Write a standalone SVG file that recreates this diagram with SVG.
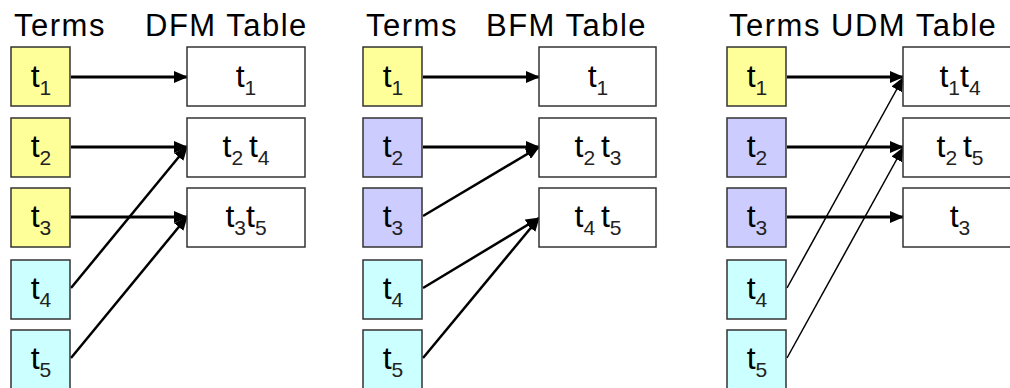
<svg xmlns="http://www.w3.org/2000/svg" width="1010" height="388" viewBox="0 0 1010 388">
  <style>
    .hdr { font-family: "Liberation Sans", Arial, sans-serif; font-size: 31px; letter-spacing: 1.5px; fill: #000; }
    .lbl { font-family: "Liberation Sans", Arial, sans-serif; font-size: 32px; fill: #000; text-anchor: middle; }
    .sub { font-size: 21px; fill: #222; }
    .box { stroke: #333; stroke-width: 1.5; }
    .y { fill: #FFFF99; }
    .v { fill: #CCCCFF; }
    .c { fill: #CCFFFF; }
    .w { fill: #FFFFFF; }
    .edge { stroke: #000; fill: none; marker-end: url(#arrow); }
    .thick { stroke-width: 3; }
    .mid { stroke-width: 2.5; }
    .thin { stroke-width: 1.5; }
  </style>
  <defs>
    <marker id="arrow" markerUnits="userSpaceOnUse" markerWidth="14" markerHeight="12" viewBox="0 0 14 12" refX="13" refY="6" orient="auto">
      <path d="M0,0 L14,6 L0,12 z" fill="#000"/>
    </marker>
  </defs>
  <rect width="1010" height="388" fill="#fff"/>

  <!-- headers -->
  <g id="headers">
    <text class="hdr" x="14" y="36">Terms</text>
    <text class="hdr" x="145" y="36">DFM Table</text>
    <text class="hdr" x="366" y="36">Terms</text>
    <text class="hdr" x="486" y="36">BFM Table</text>
    <text class="hdr" x="729" y="36">Terms UDM Table</text>
  </g>

  <!-- connectors -->
  <g id="connectors">
    <!-- DFM -->
    <line class="edge thick" x1="71" y1="77" x2="187" y2="77"/>
    <line class="edge thick" x1="71" y1="147" x2="187" y2="147"/>
    <line class="edge thick" x1="71" y1="217" x2="187" y2="217"/>
    <line class="edge mid" x1="71" y1="288" x2="187" y2="147"/>
    <line class="edge mid" x1="71" y1="358" x2="187" y2="217"/>
    <!-- BFM -->
    <line class="edge thick" x1="423" y1="77" x2="539" y2="77"/>
    <line class="edge thick" x1="423" y1="147" x2="539" y2="147"/>
    <line class="edge mid" x1="423" y1="216" x2="539" y2="147"/>
    <line class="edge mid" x1="423" y1="288" x2="539" y2="218"/>
    <line class="edge mid" x1="423" y1="358" x2="539" y2="218"/>
    <!-- UDM -->
    <line class="edge thick" x1="787" y1="77" x2="903" y2="77"/>
    <line class="edge thick" x1="787" y1="147" x2="903" y2="147"/>
    <line class="edge thick" x1="787" y1="217" x2="903" y2="217"/>
    <line class="edge thin" x1="787" y1="288" x2="903" y2="78"/>
    <line class="edge thin" x1="787" y1="358" x2="903" y2="148"/>
  </g>

  <!-- DFM terms -->
  <g id="dfm-t1"><rect class="box y" x="11" y="47" width="59" height="59"/><text class="lbl" x="41" y="87">t<tspan class="sub" dy="8">1</tspan></text></g>
  <g id="dfm-t2"><rect class="box y" x="11" y="118" width="59" height="59"/><text class="lbl" x="41" y="157">t<tspan class="sub" dy="8">2</tspan></text></g>
  <g id="dfm-t3"><rect class="box y" x="11" y="188" width="59" height="59"/><text class="lbl" x="41" y="227">t<tspan class="sub" dy="8">3</tspan></text></g>
  <g id="dfm-t4"><rect class="box c" x="11" y="260" width="59" height="59"/><text class="lbl" x="41" y="299">t<tspan class="sub" dy="8">4</tspan></text></g>
  <g id="dfm-t5"><rect class="box c" x="11" y="330" width="59" height="62"/><text class="lbl" x="41" y="369">t<tspan class="sub" dy="8">5</tspan></text></g>
  <!-- DFM table -->
  <g id="dfm-r1"><rect class="box w" x="187" y="47" width="118" height="59"/><text class="lbl" x="246" y="87">t<tspan class="sub" dy="8">1</tspan></text></g>
  <g id="dfm-r2"><rect class="box w" x="187" y="118" width="118" height="59"/><text class="lbl" x="246" y="157">t<tspan class="sub" dy="8">2 </tspan><tspan dy="-8">t</tspan><tspan class="sub" dy="8">4</tspan></text></g>
  <g id="dfm-r3"><rect class="box w" x="187" y="188" width="118" height="59"/><text class="lbl" x="246" y="227">t<tspan class="sub" dy="8">3</tspan><tspan dy="-8">t</tspan><tspan class="sub" dy="8">5</tspan></text></g>

  <!-- BFM terms -->
  <g id="bfm-t1"><rect class="box y" x="363" y="47" width="59" height="59"/><text class="lbl" x="393" y="87">t<tspan class="sub" dy="8">1</tspan></text></g>
  <g id="bfm-t2"><rect class="box v" x="363" y="118" width="59" height="59"/><text class="lbl" x="393" y="157">t<tspan class="sub" dy="8">2</tspan></text></g>
  <g id="bfm-t3"><rect class="box v" x="363" y="188" width="59" height="59"/><text class="lbl" x="393" y="227">t<tspan class="sub" dy="8">3</tspan></text></g>
  <g id="bfm-t4"><rect class="box c" x="363" y="260" width="59" height="59"/><text class="lbl" x="393" y="299">t<tspan class="sub" dy="8">4</tspan></text></g>
  <g id="bfm-t5"><rect class="box c" x="363" y="330" width="59" height="62"/><text class="lbl" x="393" y="369">t<tspan class="sub" dy="8">5</tspan></text></g>
  <!-- BFM table -->
  <g id="bfm-r1"><rect class="box w" x="539" y="47" width="117" height="59"/><text class="lbl" x="598" y="87">t<tspan class="sub" dy="8">1</tspan></text></g>
  <g id="bfm-r2"><rect class="box w" x="539" y="118" width="117" height="59"/><text class="lbl" x="598" y="157">t<tspan class="sub" dy="8">2 </tspan><tspan dy="-8">t</tspan><tspan class="sub" dy="8">3</tspan></text></g>
  <g id="bfm-r3"><rect class="box w" x="539" y="188" width="117" height="59"/><text class="lbl" x="598" y="227">t<tspan class="sub" dy="8">4 </tspan><tspan dy="-8">t</tspan><tspan class="sub" dy="8">5</tspan></text></g>

  <!-- UDM terms -->
  <g id="udm-t1"><rect class="box y" x="727" y="47" width="59" height="59"/><text class="lbl" x="757" y="87">t<tspan class="sub" dy="8">1</tspan></text></g>
  <g id="udm-t2"><rect class="box v" x="727" y="118" width="59" height="59"/><text class="lbl" x="757" y="157">t<tspan class="sub" dy="8">2</tspan></text></g>
  <g id="udm-t3"><rect class="box v" x="727" y="188" width="59" height="59"/><text class="lbl" x="757" y="227">t<tspan class="sub" dy="8">3</tspan></text></g>
  <g id="udm-t4"><rect class="box c" x="727" y="260" width="59" height="59"/><text class="lbl" x="757" y="299">t<tspan class="sub" dy="8">4</tspan></text></g>
  <g id="udm-t5"><rect class="box c" x="727" y="330" width="59" height="62"/><text class="lbl" x="757" y="369">t<tspan class="sub" dy="8">5</tspan></text></g>
  <!-- UDM table -->
  <g id="udm-r1"><rect class="box w" x="903" y="47" width="117" height="59"/><text class="lbl" x="960" y="87">t<tspan class="sub" dy="8">1</tspan><tspan dy="-8">t</tspan><tspan class="sub" dy="8">4</tspan></text></g>
  <g id="udm-r2"><rect class="box w" x="903" y="118" width="117" height="59"/><text class="lbl" x="960" y="157">t<tspan class="sub" dy="8">2 </tspan><tspan dy="-8">t</tspan><tspan class="sub" dy="8">5</tspan></text></g>
  <g id="udm-r3"><rect class="box w" x="903" y="188" width="117" height="59"/><text class="lbl" x="960" y="227">t<tspan class="sub" dy="8">3</tspan></text></g>
</svg>
